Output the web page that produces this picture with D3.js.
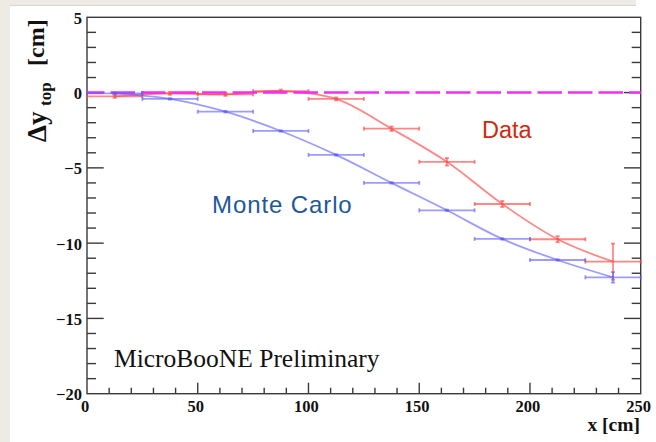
<!DOCTYPE html>
<html>
<head>
<meta charset="utf-8">
<script src="https://cdn.jsdelivr.net/npm/d3@7"></script>
<style>
  body { margin: 0; background: #eeebe4; }
  svg { display: block; }
</style>
</head>
<body>
<div id="chart"></div>
<script>
// bin centres (cm) and half-width of each bin
const binCenters = [12.5, 37.5, 62.5, 87.5, 112.5, 137.5, 162.5, 187.5, 212.5, 237.5];
const binHalfWidth = 12.5;

// Monte Carlo and Data offsets (cm)
const mcValues   = [-0.05, -0.42, -1.27, -2.55, -4.14, -6.0, -7.82, -9.72, -11.12, -12.27];
const mcErrors   = [0.05, 0.05, 0.05, 0.05, 0.05, 0.05, 0.05, 0.05, 0.05, 0.35];
const dataValues = [-0.25, -0.05, -0.12, 0.1, -0.42, -2.4, -4.6, -7.4, -9.74, -11.23];
const dataErrors = [0.1, 0.1, 0.1, 0.1, 0.1, 0.15, 0.25, 0.2, 0.2, 1.2];

const xTicks = [0, 50, 100, 150, 200, 250];
const yTicks = [5, 0, -5, -10, -15, -20];

const W = 656, H = 442;
const svg = d3.select("#chart").append("svg")
    .attr("width", W)
    .attr("height", H);

// white page area
svg.append("rect").attr("x", 10).attr("y", 5).attr("width", W - 10).attr("height", H - 5).attr("fill", "#fff");
svg.append("rect").attr("x", 636).attr("y", 0).attr("width", 20).attr("height", 6).attr("fill", "#fff");
svg.append("line").attr("x1", 10).attr("x2", 636).attr("y1", 5.5).attr("y2", 5.5)
    .attr("stroke", "#d8d6d2").attr("stroke-width", 1);

const pLeft = 87, pRight = 640.7, pTop = 17.3, pBottom = 393.7;
const x = d3.scaleLinear().domain([0, 250]).range([pLeft, pRight]);
const y = d3.scaleLinear().domain([-20, 5]).range([pBottom, pTop]);

const frame = svg.append("g").attr("stroke", "#3a3a3a").attr("stroke-width", 1.4).attr("fill", "none");
frame.append("rect").attr("x", pLeft).attr("y", pTop).attr("width", pRight - pLeft).attr("height", pBottom - pTop);

// y ticks, both sides
d3.range(-20, 6, 1).forEach(v => {
    const major = v % 5 === 0;
    const len = major ? 16.7 : 9;
    if (v === 5 || v === -20) return;
    frame.append("line").attr("x1", pLeft).attr("x2", pLeft + len).attr("y1", y(v)).attr("y2", y(v));
    frame.append("line").attr("x1", pRight).attr("x2", pRight - len).attr("y1", y(v)).attr("y2", y(v));
});
// x ticks on the bottom
d3.range(10, 250, 10).forEach(v => {
    const len = v % 50 === 0 ? 11 : 6;
    frame.append("line").attr("x1", x(v)).attr("x2", x(v)).attr("y1", pBottom).attr("y2", pBottom - len);
});

const tickFont = "'Liberation Serif', 'Times New Roman', serif";
svg.append("g").selectAll("text")
    .data(yTicks).enter().append("text")
    .attr("x", 82)
    .attr("y", d => y(d) + 6.5)
    .attr("text-anchor", "end")
    .attr("font-family", tickFont)
    .attr("font-weight", "bold")
    .attr("font-size", 16.5)
    .attr("fill", "#111")
    .text(d => d < 0 ? "\u2212" + Math.abs(d) : d);

svg.append("g").selectAll("text")
    .data(xTicks).enter().append("text")
    .attr("x", d => x(d) - 2)
    .attr("y", 411.5)
    .attr("text-anchor", "middle")
    .attr("font-family", tickFont)
    .attr("font-weight", "bold")
    .attr("font-size", 16.5)
    .attr("fill", "#111")
    .text(d => d);

// axis titles
svg.append("text")
    .attr("x", 640).attr("y", 431)
    .attr("text-anchor", "end")
    .attr("font-family", tickFont).attr("font-weight", "bold").attr("font-size", 19.5)
    .attr("fill", "#111")
    .text("x [cm]");

const yTitle = [
    { t: "\u0394y", pos: 142, base: 46, size: 27 },
    { t: "top", pos: 106, base: 51, size: 17 },
    { t: "[cm]", pos: 66, base: 44, size: 24 }
];
svg.append("g").selectAll("text")
    .data(yTitle).enter().append("text")
    .attr("transform", d => `translate(${d.base},${d.pos}) rotate(-90)`)
    .attr("font-family", tickFont).attr("font-weight", "bold")
    .attr("font-size", d => d.size)
    .attr("fill", "#111")
    .text(d => d.t);

// series
const mc = binCenters.map((c, i) => ({ x: c, y: mcValues[i], e: mcErrors[i] }));
const dat = binCenters.map((c, i) => ({ x: c, y: dataValues[i], e: dataErrors[i] }));

const line = d3.line().x(d => x(d.x)).y(d => y(d.y)).curve(d3.curveCatmullRom.alpha(0.5));

function drawSeries(pts, color) {
    const g = svg.append("g").attr("stroke", color).attr("stroke-width", 1.8).attr("fill", "none");
    g.append("path").attr("d", line(pts));
    pts.forEach(p => {
        const x0 = x(p.x - binHalfWidth), x1 = x(p.x + binHalfWidth), yy = y(p.y);
        g.append("line").attr("x1", x0).attr("x2", x1).attr("y1", yy).attr("y2", yy);
        g.append("line").attr("x1", x0).attr("x2", x0).attr("y1", yy - 2).attr("y2", yy + 2);
        g.append("line").attr("x1", x1).attr("x2", x1).attr("y1", yy - 2).attr("y2", yy + 2);
        g.append("line").attr("x1", x(p.x)).attr("x2", x(p.x)).attr("y1", y(p.y - p.e)).attr("y2", y(p.y + p.e));
        g.append("line").attr("x1", x(p.x) - 2).attr("x2", x(p.x) + 2).attr("y1", y(p.y - p.e)).attr("y2", y(p.y - p.e));
        g.append("line").attr("x1", x(p.x) - 2).attr("x2", x(p.x) + 2).attr("y1", y(p.y + p.e)).attr("y2", y(p.y + p.e));
    });
}

drawSeries(dat, "rgba(255,70,70,0.65)");

// zero reference line
svg.append("line")
    .attr("x1", x(0)).attr("x2", x(250))
    .attr("y1", y(0)).attr("y2", y(0))
    .attr("stroke", "#f52cf5").attr("stroke-width", 2.5)
    .attr("stroke-dasharray", "24.5,6")
    .attr("stroke-dashoffset", 7);

drawSeries(mc, "rgba(90,90,255,0.6)");

// labels
svg.append("text")
    .attr("x", 212).attr("y", 213.3)
    .attr("font-family", "'Liberation Sans', Arial, sans-serif")
    .attr("font-size", 24).attr("letter-spacing", 0.9)
    .attr("fill", "#22589a")
    .text("Monte Carlo");

svg.append("text")
    .attr("x", 482).attr("y", 138.3)
    .attr("font-family", "'Liberation Sans', Arial, sans-serif")
    .attr("font-size", 23.5)
    .attr("fill", "#cf2a0c")
    .text("Data");

svg.append("text")
    .attr("x", 114).attr("y", 366.7)
    .attr("font-family", tickFont)
    .attr("font-size", 25.5)
    .attr("fill", "#111")
    .text("MicroBooNE Preliminary");
</script>
</body>
</html>
